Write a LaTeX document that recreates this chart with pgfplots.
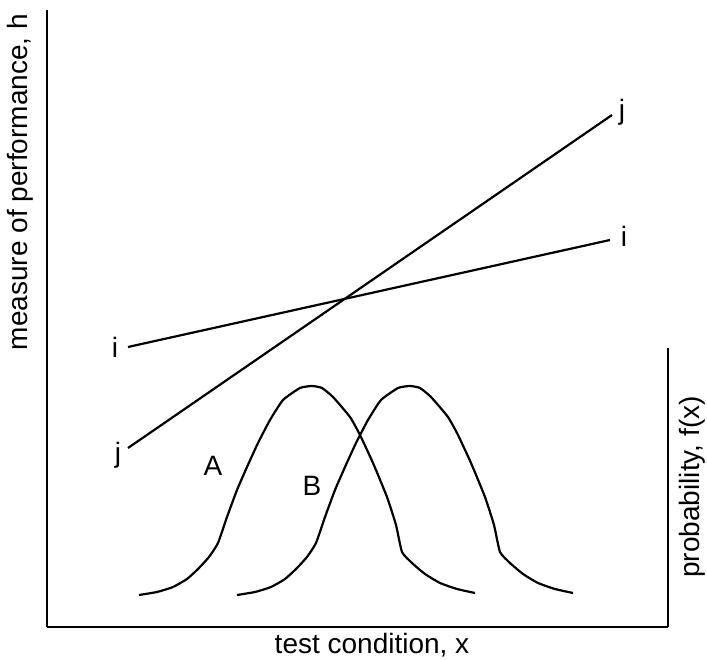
\documentclass[border=0pt]{standalone}
\usepackage{pgfplots}
\pgfplotsset{compat=1.18}
\usepackage{fontspec}
\setmainfont{Liberation Sans}

% curve A (pixel x, 659 - pixel y)
\pgfplotstableread{
x y
139 64
157 67
173 72
187 80
198 90
209 102
218 116
227 142
237 169
247 192
258 216
270 239
283 259
300 271
312 273
322 271
333 262
350 242
360 224
373 196
387 162
396 134
402 107
412 96
425 85
440 76
457 70
475 66
}\curveA
% curve B, same shape shifted right
\pgfplotstableread{
x y
237 64
255 67
271 72
285 80
296 90
307 102
316 116
325 142
335 169
345 192
356 216
368 239
381 259
398 271
410 273
420 271
431 262
448 242
458 224
471 196
485 162
494 134
500 107
510 96
523 85
538 76
555 70
573 66
}\curveB

\tikzset{lbl/.style={inner sep=0pt, font=\fontsize{14}{17}\selectfont}}

\begin{document}
\begin{tikzpicture}
\begin{axis}[
    x=0.5pt, y=0.5pt,
    xmin=47, xmax=668,
    ymin=32, ymax=649,
    axis lines=left,
    axis line style={-, line width=1.1pt},
    xtick=\empty, ytick=\empty,
    clip=false,
]
\addplot[black, line width=1.1pt, smooth, tension=0.3] table {\curveA};
\addplot[black, line width=1.1pt, smooth, tension=0.3] table {\curveB};
\addplot[black, line width=1.1pt] coordinates {(128,312) (610,419)};
\addplot[black, line width=1.1pt] coordinates {(128,211) (612,544)};
% right-hand probability axis
\draw[line width=1.1pt] (axis cs:668,32) -- (axis cs:668,311);
\node[lbl] at (axis cs:115,312) {i};
\node[lbl] at (axis cs:118,204) {j};
\node[lbl] at (axis cs:622,547) {j};
\node[lbl] at (axis cs:624,423) {i};
\node[lbl] at (axis cs:213,193) {A};
\node[lbl] at (axis cs:312,173) {B};
\node[lbl, rotate=90] at (axis cs:20,477) {measure of performance, h};
\node[lbl, rotate=90] at (axis cs:692,172) {probability, f(x)};
\node[lbl] at (axis cs:372,14) {test condition, x};
\path (axis cs:0,0) (axis cs:707,659);
\end{axis}
\end{tikzpicture}
\end{document}
